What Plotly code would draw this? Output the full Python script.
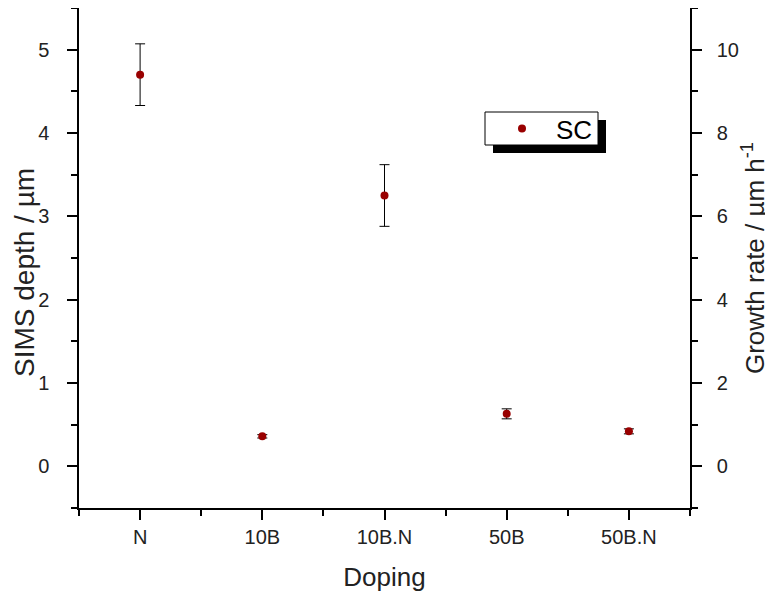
import plotly.graph_objects as go

categories = ["N", "10B", "10B.N", "50B", "50B.N"]
sims_depth = [4.70, 0.36, 3.25, 0.63, 0.42]
sims_err = [0.37, 0.02, 0.37, 0.06, 0.03]
growth_rate = [9.40, 0.72, 6.50, 1.26, 0.84]

xpos = list(range(1, len(categories) + 1))
font_family = "Liberation Sans, Arial, sans-serif"

fig = go.Figure()
fig.add_trace(go.Scatter(
    x=xpos, y=sims_depth, mode="markers", name="SC",
    marker=dict(color="#990000", size=8),
    error_y=dict(type="data", array=sims_err, color="black", thickness=1, width=5),
    showlegend=True,
))
fig.add_trace(go.Scatter(
    x=xpos, y=growth_rate, mode="markers", yaxis="y2",
    marker=dict(opacity=0), showlegend=False, hoverinfo="skip",
))

axis_common = dict(
    showline=True, linecolor="black", linewidth=1.5,
    ticks="outside", ticklen=10, tickwidth=1.5, tickcolor="black",
    showgrid=False, zeroline=False, automargin=False,
    tickfont=dict(family=font_family, size=20, color="#222"),
)
title_font = dict(size=26, family=font_family, color="#222")
minor_common = dict(ticks="outside", ticklen=6, tickwidth=1.5, tickcolor="black")

# page has an 8px body offset; margins chosen so the plot box sits at x 79..690, y 8..508
ML, MR, MT, MB = 71, 91, 0, 91

fig.update_layout(
    width=773, height=591,
    paper_bgcolor="white", plot_bgcolor="white",
    margin=dict(l=ML, r=MR, t=MT, b=MB),
    font=dict(family=font_family, color="#222"),
    xaxis=dict(
        **axis_common, range=[0.5, 5.5], mirror=True,
        tickmode="array", tickvals=xpos, ticktext=categories,
        minor=dict(tickmode="linear", tick0=0.5, dtick=1, **minor_common),
        title=dict(text="Doping", font=title_font, standoff=21),
    ),
    yaxis=dict(
        **axis_common, range=[-0.5, 5.5], tickmode="linear", tick0=0, dtick=1,
        ticklabelstandoff=14,
        minor=dict(tickmode="linear", tick0=0.5, dtick=1, **minor_common),
    ),
    yaxis2=dict(
        **axis_common, overlaying="y", side="right", anchor="x",
        range=[-1, 11], tickmode="linear", tick0=0, dtick=2,
        ticklabelstandoff=11,
        minor=dict(tickmode="linear", tick0=1, dtick=2, **minor_common),
        title=dict(text="Growth rate / µm h<sup>-1</sup>", font=title_font, standoff=8),
    ),
)

# pixel -> paper fraction helpers (page coordinates include the 8px offset)
pw = 773 - ML - MR
ph = 591 - MT - MB
def px(x):
    return (x - 8 - ML) / pw
def py(y):
    return 1 - (y - 8 - MT) / ph

# left axis title
fig.add_annotation(text="SIMS depth / µm", xref="paper", yref="paper",
                   x=px(24), y=py(273), textangle=-90, showarrow=False,
                   xanchor="center", yanchor="middle",
                   font=dict(size=28, family=font_family, color="#222"))

lx0, ly0, lx1, ly1 = 485, 112, 598, 145
# shadow and box of the legend
fig.add_shape(type="rect", xref="paper", yref="paper",
              x0=px(lx0 + 8), x1=px(lx1 + 8), y0=py(ly1 + 8), y1=py(ly0 + 8),
              fillcolor="black", line=dict(width=0), layer="above")
fig.add_shape(type="rect", xref="paper", yref="paper",
              x0=px(lx0), x1=px(lx1), y0=py(ly1), y1=py(ly0),
              fillcolor="white", line=dict(color="black", width=1), layer="above")
fig.update_layout(legend=dict(
    x=px(lx0 + 3), y=py((ly0 + ly1) / 2), xanchor="left", yanchor="middle",
    itemwidth=58, font=dict(size=26, family=font_family, color="black"),
    bgcolor="rgba(0,0,0,0)", borderwidth=0,
))

fig.write_html("out.html")
